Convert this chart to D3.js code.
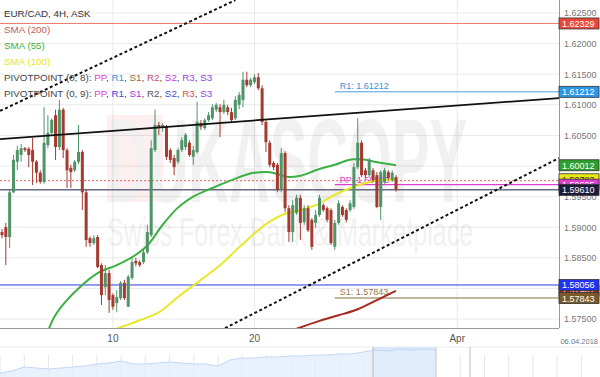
<!DOCTYPE html>
<html>
<head>
<meta charset="utf-8">
<script src="https://cdnjs.cloudflare.com/ajax/libs/d3/7.8.5/d3.min.js"></script>
<style>
   body { margin: 0; background: #fff; }
   svg { display: block; font-family: "Liberation Sans", Arial, sans-serif; }
</style>
</head>
<body>
<svg id="chart" width="600" height="377"></svg>
<script>
// 4h bars, [open, close, high, low]
const candles = [
   [1.5892, 1.5887, 1.5897, 1.5882], [1.5900, 1.5884, 1.5907, 1.5838], [1.5884, 1.5957, 1.5961, 1.5866],
   [1.5957, 1.6010, 1.6018, 1.5956], [1.6007, 1.6026, 1.6033, 1.5993], [1.6018, 1.6029, 1.6036, 1.6007],
   [1.6029, 1.6026, 1.6031, 1.6023], [1.6028, 1.6018, 1.6031, 1.5998], [1.6026, 1.6007, 1.6046, 1.5969],
   [1.6007, 1.5989, 1.6010, 1.5972], [1.5989, 1.5974, 1.5993, 1.5971], [1.5974, 1.6038, 1.6096, 1.5971],
   [1.6034, 1.6054, 1.6083, 1.6029], [1.6054, 1.6075, 1.6078, 1.6051], [1.6083, 1.6031, 1.6092, 1.6010],
   [1.6031, 1.6092, 1.6108, 1.6026], [1.6092, 1.6026, 1.6095, 1.6013], [1.6026, 1.5993, 1.6029, 1.5964],
   [1.5997, 1.5990, 1.6002, 1.5964], [1.5993, 1.6007, 1.6010, 1.5990], [1.6007, 1.6023, 1.6067, 1.6003],
   [1.6023, 1.5957, 1.6026, 1.5928], [1.5957, 1.5879, 1.5961, 1.5868], [1.5882, 1.5874, 1.5885, 1.5868],
   [1.5874, 1.5882, 1.5887, 1.5871], [1.5884, 1.5835, 1.5887, 1.5833], [1.5838, 1.5789, 1.5841, 1.5773],
   [1.5802, 1.5825, 1.5838, 1.5789], [1.5825, 1.5781, 1.5830, 1.5760], [1.5789, 1.5770, 1.5792, 1.5765],
   [1.5776, 1.5786, 1.5797, 1.5761], [1.5784, 1.5809, 1.5812, 1.5781], [1.5809, 1.5784, 1.5814, 1.5781],
   [1.5770, 1.5819, 1.5822, 1.5770], [1.5817, 1.5843, 1.5850, 1.5814], [1.5845, 1.5841, 1.5850, 1.5836],
   [1.5843, 1.5838, 1.5846, 1.5835], [1.5843, 1.5859, 1.5863, 1.5840], [1.5859, 1.5892, 1.5904, 1.5856],
   [1.5887, 1.6029, 1.6042, 1.5884], [1.6026, 1.6067, 1.6092, 1.6023], [1.6067, 1.6062, 1.6072, 1.6051],
   [1.6062, 1.6067, 1.6070, 1.6056], [1.6064, 1.6015, 1.6067, 1.6010], [1.6026, 1.6010, 1.6029, 1.6005],
   [1.6013, 1.5998, 1.6018, 1.5985], [1.6007, 1.6026, 1.6029, 1.6003], [1.6026, 1.6042, 1.6047, 1.6023],
   [1.6031, 1.6051, 1.6054, 1.6026], [1.6038, 1.6018, 1.6042, 1.6015], [1.6015, 1.6026, 1.6033, 1.6002],
   [1.6023, 1.6072, 1.6105, 1.6020], [1.6070, 1.6064, 1.6075, 1.6059], [1.6062, 1.6075, 1.6078, 1.6059],
   [1.6075, 1.6083, 1.6088, 1.6072], [1.6078, 1.6096, 1.6101, 1.6075], [1.6092, 1.6100, 1.6103, 1.6088],
   [1.6096, 1.6088, 1.6101, 1.6047], [1.6088, 1.6100, 1.6108, 1.6085], [1.6096, 1.6088, 1.6100, 1.6083],
   [1.6088, 1.6075, 1.6095, 1.6070], [1.6078, 1.6108, 1.6114, 1.6075], [1.6100, 1.6116, 1.6121, 1.6093],
   [1.6108, 1.6141, 1.6154, 1.6096], [1.6141, 1.6132, 1.6154, 1.6129], [1.6132, 1.6141, 1.6144, 1.6129],
   [1.6137, 1.6145, 1.6150, 1.6134], [1.6145, 1.6127, 1.6152, 1.6124], [1.6127, 1.6072, 1.6132, 1.6067],
   [1.6072, 1.6039, 1.6075, 1.6023], [1.6038, 1.6002, 1.6042, 1.5998], [1.6005, 1.5998, 1.6008, 1.5993],
   [1.6002, 1.5961, 1.6005, 1.5957], [1.5961, 1.6021, 1.6029, 1.5957], [1.6021, 1.5931, 1.6024, 1.5925],
   [1.5931, 1.5892, 1.5936, 1.5876], [1.5892, 1.5936, 1.5944, 1.5876], [1.5923, 1.5948, 1.5953, 1.5920],
   [1.5948, 1.5907, 1.5953, 1.5879], [1.5908, 1.5931, 1.5936, 1.5904], [1.5931, 1.5895, 1.5936, 1.5892],
   [1.5912, 1.5868, 1.5915, 1.5863], [1.5907, 1.5920, 1.5928, 1.5899], [1.5920, 1.5948, 1.5953, 1.5917],
   [1.5936, 1.5928, 1.5939, 1.5925], [1.5931, 1.5912, 1.5934, 1.5908], [1.5928, 1.5874, 1.5931, 1.5871],
   [1.5868, 1.5907, 1.5912, 1.5863], [1.5907, 1.5939, 1.5944, 1.5904], [1.5933, 1.5920, 1.5936, 1.5917],
   [1.5928, 1.5912, 1.5931, 1.5908], [1.5928, 1.5939, 1.5944, 1.5925], [1.5933, 1.5998, 1.6005, 1.5930],
   [1.5998, 1.6038, 1.6078, 1.5995], [1.6038, 1.5985, 1.6042, 1.5982], [1.5993, 1.5985, 1.5997, 1.5980],
   [1.5985, 1.6010, 1.6013, 1.5982], [1.5993, 1.5977, 1.5997, 1.5974], [1.5985, 1.5933, 1.5990, 1.5931],
   [1.5933, 1.5990, 1.5993, 1.5912], [1.5974, 1.5993, 1.5997, 1.5971], [1.5990, 1.5980, 1.5993, 1.5977],
   [1.5977, 1.5989, 1.5993, 1.5974], [1.5982, 1.5961, 1.5985, 1.5958]
];

// moving averages, [bar index, value]
const sma55 = [[12, 1.5730], [13, 1.5745], [17, 1.5781], [20, 1.5800], [25, 1.5825], [30, 1.5838], [35, 1.5855],
   [38, 1.5870], [42, 1.5904], [46, 1.5932], [50, 1.5950], [55, 1.5964], [60, 1.5977], [66, 1.5989],
   [69, 1.5990], [72, 1.5987], [75, 1.5982], [78, 1.5984], [82, 1.5993], [87, 1.6002], [92, 1.6011],
   [94, 1.6011], [98, 1.6006], [103, 1.60012]];
const sma100 = [[30, 1.5734], [36, 1.5748], [41, 1.5761], [46, 1.5786], [52, 1.5814], [57, 1.5838], [63, 1.5873],
   [69, 1.5905], [74, 1.5922], [78, 1.5928], [82, 1.5936], [87, 1.5953], [92, 1.5966], [97, 1.5975], [103, 1.59783]];
const sma200 = [[77, 1.5734], [83, 1.5747], [88, 1.5756], [93, 1.5766], [98, 1.5781], [103, 1.57961]];

// drawn trend lines, [bar index, price] end points
const resistLine = [[-0.5, 1.6044], [145.6, 1.6111]];
const channelTop = [[-0.5, 1.6090], [61, 1.6271]];
const channelLow = [[58.3, 1.5735], [145.6, 1.6013]];

// pivot levels
const r3Week = 1.62329;
const r1Day = 1.61212;
const ppDay = 1.59695;
const ppWeek = 1.59760;
const lastPrice = 1.59610;
const s2Week = 1.58056;
const s1Day = 1.57843;
const pivotStart = 87;

const priceTicks = [1.575, 1.58, 1.585, 1.59, 1.595, 1.6, 1.605, 1.61, 1.615, 1.62, 1.625];
const timeTicks = [29, 66, 119];
const timeLabels = ["10", "20", "Apr"];

// navigator overview series
const navValues = [1.5333, 1.5400, 1.5533, 1.5500, 1.5467, 1.5500, 1.5533, 1.5567, 1.5633, 1.5667,
   1.5733, 1.5633, 1.5633, 1.5667, 1.5700, 1.5667, 1.5633, 1.5633, 1.5567, 1.5767, 1.5833, 1.5833,
   1.5867, 1.5867, 1.5900, 1.5900, 1.5933, 1.5933, 1.5967, 1.5967, 1.6033, 1.6100, 1.6067, 1.6133,
   1.6100, 1.6133, 1.6100];

const svg = d3.select("#chart");
const plotW = 559, plotH = 328;

const x = d3.scaleLinear().domain([0, candles.length - 1]).range([2, 396]);
const y = d3.scaleLinear().domain([1.575, 1.625]).range([319, 13]);

svg.append("defs").append("clipPath").attr("id", "plotClip")
   .append("rect").attr("x", 0).attr("y", 0).attr("width", plotW).attr("height", plotH);

//grid
const grid = svg.append("g");
grid.selectAll(".hgrid").data(priceTicks).enter().append("line")
   .attr("x1", 0).attr("x2", plotW)
   .attr("y1", d => y(d)).attr("y2", d => y(d))
   .style("stroke", "#e9e9e9");
grid.selectAll(".vgrid").data(timeTicks).enter().append("line")
   .attr("x1", d => x(d)).attr("x2", d => x(d))
   .attr("y1", 0).attr("y2", plotH)
   .style("stroke", "#e9e9e9");

//watermark
const wm = svg.append("g").style("opacity", 0.06);
wm.append("rect").attr("x", 107).attr("y", 115).attr("width", 56).attr("height", 87).style("fill", "#e00");
wm.append("text").attr("x", 107).attr("y", 202).attr("textLength", 360).attr("lengthAdjust", "spacingAndGlyphs")
   .style("font-size", "118px").style("font-weight", "bold").style("fill", "#222").text("DUKASCOPY");
wm.append("text").attr("x", 107).attr("y", 246).attr("textLength", 366).attr("lengthAdjust", "spacingAndGlyphs")
   .style("font-size", "40px").style("fill", "#222").text("Swiss Forex Bank & Marketplace");

const plot = svg.append("g").attr("clip-path", "url(#plotClip)");

// full width levels
function hLine(v, from, color, width, dash) {
   plot.append("line")
      .attr("x1", from).attr("x2", plotW)
      .attr("y1", y(v)).attr("y2", y(v))
      .style("stroke", color).style("stroke-width", width)
      .style("stroke-dasharray", dash || null);
}
hLine(r3Week, 0, "#ec7a6a", 1);
hLine(ppWeek, 0, "#e26060", 1, "2,2");
hLine(lastPrice, 0, "#6a6a84", 1.5);
hLine(s2Week, 0, "#2a3ae0", 1);
hLine(r1Day, x(pivotStart), "#4a9ee0", 1);
hLine(ppDay, x(pivotStart), "#e040d0", 1.2);
hLine(s1Day, x(pivotStart), "#8b6a3e", 1.2);

plot.append("text").attr("x", x(pivotStart) + 5).attr("y", y(r1Day) - 3)
   .style("font-size", "9px").style("fill", "#3a8fd8").text("R1: " + r1Day.toFixed(5));
plot.append("text").attr("x", x(pivotStart) + 5).attr("y", y(ppDay) - 2)
   .style("font-size", "9px").style("fill", "#e040d0").text("PP: " + ppDay.toFixed(5));
plot.append("text").attr("x", x(pivotStart) + 5).attr("y", y(s1Day) - 3)
   .style("font-size", "9px").style("fill", "#9a7a4a").text("S1: " + s1Day.toFixed(5));

// moving averages
const maLine = d3.line().x(d => x(d[0])).y(d => y(d[1])).curve(d3.curveMonotoneX);
plot.append("path").attr("d", maLine(sma200)).style("fill", "none").style("stroke", "#a52a20").style("stroke-width", 2);
plot.append("path").attr("d", maLine(sma100)).style("fill", "none").style("stroke", "#e8e82a").style("stroke-width", 2);
plot.append("path").attr("d", maLine(sma55)).style("fill", "none").style("stroke", "#3cb043").style("stroke-width", 2);

// candles
const upCol = "#4f9468", downCol = "#a53a30";
const bars = plot.selectAll(".bar").data(candles).enter().append("g");
bars.append("line")
   .attr("x1", (d, i) => x(i)).attr("x2", (d, i) => x(i))
   .attr("y1", d => y(d[2])).attr("y2", d => y(d[3]))
   .style("stroke", d => d[1] >= d[0] ? upCol : downCol).style("stroke-width", 1);
bars.append("rect")
   .attr("x", (d, i) => x(i) - 1.5).attr("width", 3)
   .attr("y", d => y(Math.max(d[0], d[1])))
   .attr("height", d => Math.max(1, Math.abs(y(d[0]) - y(d[1]))))
   .style("fill", d => d[1] >= d[0] ? upCol : downCol);

// trend lines
const tLine = d3.line().x(d => x(d[0])).y(d => y(d[1]));
plot.append("path").attr("d", tLine(resistLine)).style("stroke", "#111").style("stroke-width", 1.8);
plot.append("path").attr("d", tLine(channelTop)).style("stroke", "#111").style("stroke-width", 2).style("stroke-dasharray", "3,2.5");
plot.append("path").attr("d", tLine(channelLow)).style("stroke", "#111").style("stroke-width", 2).style("stroke-dasharray", "3,2.5");

// frame
svg.append("line").attr("x1", plotW + 0.5).attr("x2", plotW + 0.5).attr("y1", 0).attr("y2", plotH)
   .style("stroke", "#999");
svg.append("line").attr("x1", 0).attr("x2", plotW).attr("y1", plotH + 0.5).attr("y2", plotH + 0.5)
   .style("stroke", "#999");

// price axis
const yAxis = d3.axisRight(y).tickValues(priceTicks).tickSize(0).tickPadding(5).tickFormat(d3.format(".5f"));
const ya = svg.append("g").attr("transform", "translate(" + plotW + ",0)").call(yAxis);
ya.select(".domain").remove();
ya.selectAll("text").style("font-size", "9px").style("fill", "#777").style("font-family", "Liberation Sans, Arial");

// time axis
svg.selectAll(".tlab").data(timeTicks).enter().append("text")
   .attr("x", d => x(d)).attr("y", 342).attr("text-anchor", "middle")
   .style("font-size", "10px").style("fill", "#555")
   .text((d, i) => timeLabels[i]);
svg.append("text").attr("x", 598).attr("y", 344).attr("text-anchor", "end")
   .style("font-size", "7.5px").style("fill", "#777").text("06.04.2018");

// price tags on the axis
function tag(v, fill, textCol) {
   const g = svg.append("g");
   g.append("rect").attr("x", plotW).attr("y", y(v) - 5.5).attr("width", 40).attr("height", 11)
      .style("fill", fill).style("stroke", "#333").style("stroke-width", 0.8);
   g.append("text").attr("x", plotW + 3).attr("y", y(v) + 3.5)
      .style("font-size", "9px").style("fill", textCol).text(v.toFixed(5));
}
tag(r3Week, "#e8483a", "#fff");
tag(r1Day, "#2f96e6", "#fff");
tag(sma55[sma55.length - 1][1], "#2ca02c", "#fff");
tag(sma100[sma100.length - 1][1], "#eaea10", "#333");
tag(ppDay, "#e040d0", "#fff");
tag(lastPrice, "#1c1c3a", "#fff");
tag(sma200[sma200.length - 1][1], "#a52a20", "#fff");
tag(s2Week, "#2233ee", "#fff");
tag(s1Day, "#7a5a2a", "#fff");

// legend
const legend = [
   [["EUR/CAD, 4H, ASK", "#333"]],
   [["SMA (200)", "#c0605a"]],
   [["SMA (55)", "#3cb043"]],
   [["SMA (100)", "#e6e620"]],
   [["PIVOTPOINT (0, 8): ", "#444"], ["PP", "#e040d0"], [", ", "#444"], ["R1", "#3399dd"], [", ", "#444"],
      ["S1", "#8b7040"], [", ", "#444"], ["R2", "#c05070"], [", ", "#444"], ["S2", "#c040e0"], [", ", "#444"],
      ["R3", "#b040e0"], [", ", "#444"], ["S3", "#9040e0"]],
   [["PIVOTPOINT (0, 9): ", "#444"], ["PP", "#e040d0"], [", ", "#444"], ["R1", "#4040e0"], [", ", "#444"],
      ["S1", "#9040e0"], [", ", "#444"], ["R2", "#555"], [", ", "#444"], ["S2", "#4050c0"], [", ", "#444"],
      ["R3", "#e05040"], [", ", "#444"], ["S3", "#9040e0"]]
];
legend.forEach((row, r) => {
   const t = svg.append("text").attr("x", 4).attr("y", 17 + r * 16).style("font-size", "9.8px");
   row.forEach(p => t.append("tspan").style("fill", p[1]).text(p[0]));
});

// navigator
const navTop = 347;
const navX = d3.scaleLinear().domain([0, navValues.length - 1]).range([0, 436]);
const navY = d3.scaleLinear().domain([1.52, 1.62]).range([377, 347]);
const nav = svg.append("g");
nav.append("line").attr("x1", 0).attr("x2", 600).attr("y1", navTop).attr("y2", navTop).style("stroke", "#eee");
nav.selectAll(".ng").data(d3.range(0, 50, 2)).enter().append("line")
   .attr("x1", d => navX(d)).attr("x2", d => navX(d)).attr("y1", navTop + 8).attr("y2", 377)
   .style("stroke", "#e6e6e6");
nav.append("rect").attr("x", 373).attr("y", navTop).attr("width", 63).attr("height", 30).style("fill", "#dce8fa");
const navArea = d3.area().x((d, i) => navX(i)).y0(377).y1(d => navY(d));
nav.append("path").attr("d", navArea(navValues)).style("fill", "#e4eefc").style("opacity", 0.8);
nav.append("path").attr("d", d3.line().x((d, i) => navX(i)).y(d => navY(d))(navValues))
   .style("fill", "none").style("stroke", "#c4d6f4");
nav.append("line").attr("x1", 373).attr("x2", 373).attr("y1", navTop).attr("y2", 377).style("stroke", "#bbb");
nav.append("line").attr("x1", 436).attr("x2", 436).attr("y1", navTop).attr("y2", 377).style("stroke", "#ccc");
nav.append("line").attr("x1", 470).attr("x2", 470).attr("y1", navTop).attr("y2", 377).style("stroke", "#bbb");
</script>
</body>
</html>
